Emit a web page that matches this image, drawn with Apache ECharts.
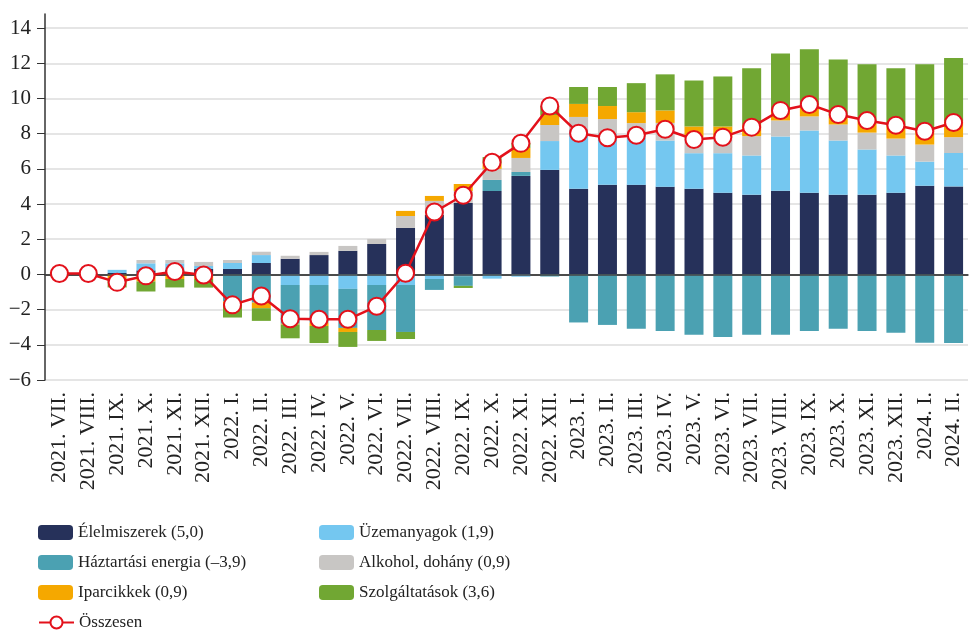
<!DOCTYPE html>
<html>
<head>
<meta charset="utf-8">
<script src="https://cdn.jsdelivr.net/npm/echarts@6/dist/echarts.min.js"></script>
<style>
  html, body { margin: 0; padding: 0; background: #fff; }
  #main { width: 970px; height: 630px; }
</style>
</head>
<body>
<div id="main"></div>
<script>
// havi kategóriák
var months = ['2021. VII.', '2021. VIII.', '2021. IX.', '2021. X.', '2021. XI.', '2021. XII.',
  '2022. I.', '2022. II.', '2022. III.', '2022. IV.', '2022. V.', '2022. VI.',
  '2022. VII.', '2022. VIII.', '2022. IX.', '2022. X.', '2022. XI.', '2022. XII.',
  '2023. I.', '2023. II.', '2023. III.', '2023. IV.', '2023. V.', '2023. VI.',
  '2023. VII.', '2023. VIII.', '2023. IX.', '2023. X.', '2023. XI.', '2023. XII.',
  '2024. I.', '2024. II.'];

// hozzájárulások (százalékpont)
var elelmiszer = [0, 0.05, 0.08, 0.23, 0.28, 0.31, 0.31, 0.65, 0.89, 1.1, 1.34, 1.73,
  2.64, 3.38, 4.06, 4.74, 5.6, 5.94, 4.87, 5.09, 5.09, 4.98, 4.87, 4.64,
  4.53, 4.75, 4.64, 4.53, 4.53, 4.64, 5.04, 5.0];
var uzemanyag = [0, 0, 0.18, 0.4, 0.35, 0.17, 0.34, 0.45, -0.6, -0.6, -0.82, -0.6,
  -0.6, -0.26, -0.1, -0.24, -0.13, 1.64, 3.33, 2.9, 2.7, 2.63, 2.02, 2.25,
  2.23, 3.09, 3.54, 3.08, 2.57, 2.12, 1.37, 1.9];
var energia = [0, 0, 0, 0, 0, 0, -1.54, -1.6, -2.2, -2.14, -2.22, -2.56,
  -2.67, -0.62, -0.55, 0.63, 0.22, -0.12, -2.73, -2.87, -3.09, -3.21, -3.43, -3.55,
  -3.43, -3.43, -3.21, -3.09, -3.21, -3.32, -3.89, -3.9];
var alkohol = [0, 0, 0, 0.19, 0.19, 0.23, 0.17, 0.19, 0.17, 0.18, 0.28, 0.29,
  0.68, 0.8, 0.68, 0.63, 0.8, 0.91, 0.75, 0.84, 0.81, 1.0, 0.91, 0.91,
  1.1, 0.91, 0.8, 0.91, 0.96, 0.96, 0.97, 0.9];
var iparcikk = [0.15, 0, -0.26, -0.4, -0.26, -0.26, -0.19, -0.32, -0.05, -0.19, -0.23, 0,
  0.29, 0.28, 0.4, 0.3, 0.57, 0.57, 0.74, 0.74, 0.62, 0.71, 0.61, 0.61,
  0.64, 0.55, 0.62, 0.48, 0.64, 0.73, 0.92, 0.9];
var szolgaltatas = [-0.1, 0, -0.48, -0.57, -0.48, -0.49, -0.72, -0.72, -0.78, -0.97, -0.85, -0.62,
  -0.4, 0, -0.12, 0.37, 0.28, 0.51, 0.96, 1.08, 1.65, 2.05, 2.61, 2.84,
  3.21, 3.26, 3.19, 3.22, 3.24, 3.26, 3.64, 3.6];
var osszesen = [0.05, 0.05, -0.45, -0.08, 0.17, -0.03, -1.73, -1.23, -2.52, -2.55, -2.55, -1.81,
  0.07, 3.55, 4.5, 6.37, 7.45, 9.57, 8.02, 7.77, 7.91, 8.25, 7.67, 7.8,
  8.37, 9.32, 9.66, 9.09, 8.75, 8.48, 8.14, 8.63];

var FONT = 'Liberation Serif';

function bar(name, data, color) {
  return {
    name: name,
    type: 'bar',
    stack: 'total',
    barWidth: 19,
    itemStyle: { color: color },
    data: data
  };
}

function legendBlock(left, top, names) {
  return {
    left: left, top: top, orient: 'vertical',
    itemWidth: 35, itemHeight: 15, itemGap: 13,
    textStyle: { fontFamily: FONT, fontSize: 17, color: '#222' },
    data: names
  };
}

var chart = echarts.init(document.getElementById('main'));
var series = [
  bar('Élelmiszerek (5,0)', elelmiszer, '#26315A'),
  bar('Üzemanyagok (1,9)', uzemanyag, '#74C7F0'),
  bar('Háztartási energia (–3,9)', energia, '#4BA1B2'),
  bar('Alkohol, dohány (0,9)', alkohol, '#C8C6C4'),
  bar('Iparcikkek (0,9)', iparcikk, '#F5A800'),
  bar('Szolgáltatások (3,6)', szolgaltatas, '#71A733'),
  {
    name: 'Összesen',
    type: 'line',
    z: 5,
    data: osszesen,
    symbol: 'circle',
    symbolSize: 17,
    lineStyle: { color: '#E3111B', width: 2.5 },
    itemStyle: { color: '#fff', borderColor: '#E3111B', borderWidth: 2 }
  }
];
// nullvonal
series[0].markLine = {
  silent: true,
  symbol: 'none',
  label: { show: false },
  lineStyle: { color: '#444', width: 1.5, type: 'solid' },
  data: [{ yAxis: 0 }]
};

chart.setOption({
  animation: false,
  textStyle: { fontFamily: FONT },
  grid: { left: 45, right: 2, top: 14, bottom: 250 },
  legend: [
    legendBlock(33, 519, ['Élelmiszerek (5,0)', 'Háztartási energia (–3,9)', 'Iparcikkek (0,9)']),
    legendBlock(314, 519, ['Üzemanyagok (1,9)', 'Alkohol, dohány (0,9)', 'Szolgáltatások (3,6)']),
    legendBlock(33, 609, ['Összesen'])
  ],
  xAxis: {
    type: 'category',
    data: months,
    axisLine: { lineStyle: { color: '#333', width: 1.5 } },
    axisTick: { length: 6, lineStyle: { color: '#333' } },
    axisLabel: { rotate: 90, interval: 0, fontFamily: FONT, fontSize: 22, color: '#222', margin: 12 }
  },
  yAxis: {
    type: 'value',
    min: -6,
    max: 14.8,
    interval: 2,
    axisLine: { show: true, lineStyle: { color: '#333', width: 1.5 } },
    axisTick: { show: true, length: 8, lineStyle: { color: '#333' } },
    axisLabel: {
      fontFamily: FONT, fontSize: 21, color: '#222', margin: 14, showMaxLabel: false,
      formatter: function (v) { return v < 0 ? '−' + Math.abs(v) : String(v); }
    },
    splitLine: { showMaxLine: false, lineStyle: { color: '#ddd', width: 1.5 } }
  },
  series: series
});
</script>
</body>
</html>
